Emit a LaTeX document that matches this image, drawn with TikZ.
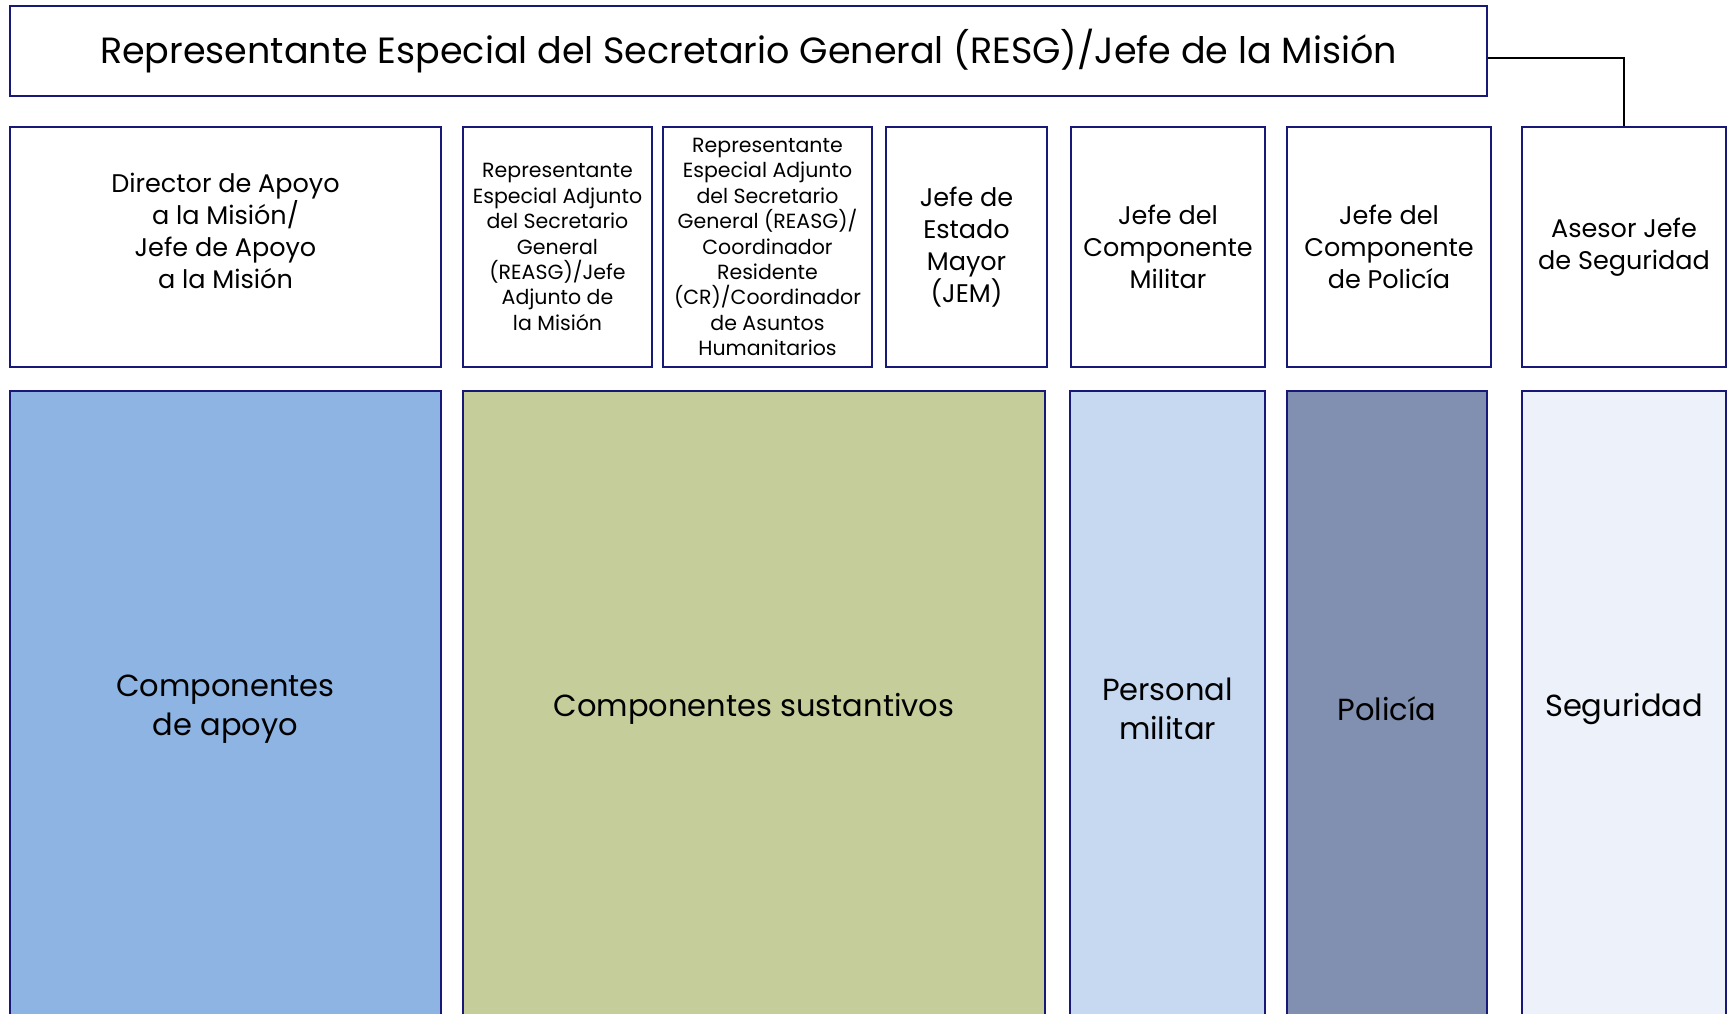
\documentclass[tikz,border=0pt]{standalone}
\usepackage{fontspec}
\setmainfont{Poppins}
\usepackage{xcolor}
\usepackage{tikz}
\definecolor{marino}{RGB}{24,24,120}
\definecolor{apoyo}{HTML}{8EB4E3}
\definecolor{sustantivo}{HTML}{C5CD9B}
\definecolor{militar}{HTML}{C6D9F1}
\definecolor{policia}{HTML}{8190B0}
\definecolor{seguridad}{HTML}{EDF2FA}
\tikzset{
	caja/.style={draw=marino, line width=2.2pt, align=center, inner sep=0pt, text=black}
}
\tikzstyle{jefe} = [caja, fill=white, font=\fontsize{25.5}{32}\selectfont]
\tikzstyle{chico} = [caja, fill=white, font=\fontsize{20.5}{25.4}\selectfont]
\tikzstyle{comp} = [caja, font=\fontsize{30.5}{38.6}\selectfont]
\tikzstyle{linea} = [draw, line width=1.5pt, black, -]

\begin{document}
\begin{tikzpicture}[x=1pt, y=-1pt]
  \clip (0,0) rectangle (1731,1013);
  \fill[white] (0,0) rectangle (1731,1013);

  \node[caja, fill=white, minimum width=1477pt, minimum height=90pt,
        font=\fontsize{36.5}{40}\selectfont] (resg) at (748.5,51)
    {Representante Especial del Secretario General (RESG)/Jefe de la Misión};

  % jefes
  \node[jefe, minimum width=431pt, minimum height=240pt] (dir) at (225.5,247)
    {Director de Apoyo\\a la Misión/\\Jefe de Apoyo\\a la Misión\\~};
  \node[chico, minimum width=189pt, minimum height=240pt] (reasg) at (557.5,247)
    {Representante\\Especial Adjunto\\del Secretario\\General\\(REASG)/Jefe\\Adjunto de\\la Misión};
  \node[chico, minimum width=209pt, minimum height=240pt] (cr) at (767.5,247)
    {Representante\\Especial Adjunto\\del Secretario\\General (REASG)/\\Coordinador\\Residente\\(CR)/Coordinador\\de Asuntos\\Humanitarios};
  \node[jefe, minimum width=161pt, minimum height=240pt] (jem) at (966.5,247)
    {Jefe de\\Estado\\Mayor\\(JEM)};
  \node[jefe, minimum width=194pt, minimum height=240pt] (jmil) at (1168,247)
    {Jefe del\\Componente\\Militar};
  \node[jefe, minimum width=204pt, minimum height=240pt] (jpol) at (1389,247)
    {Jefe del\\Componente\\de Policía};
  \node[jefe, minimum width=204pt, minimum height=240pt] (asesor) at (1624,247)
    {Asesor Jefe\\de Seguridad};

  % componentes
  \node[comp, fill=apoyo, minimum width=431pt, minimum height=636pt] (capoyo) at (225.5,709)
    {Componentes\\de apoyo};
  \node[comp, fill=sustantivo, minimum width=582pt, minimum height=636pt] (csust) at (754,709)
    {Componentes sustantivos};
  \node[comp, fill=militar, minimum width=195pt, minimum height=636pt] (cmil) at (1167.5,709)
    {Personal\\militar};
  \node[comp, fill=policia, minimum width=200pt, minimum height=636pt] (cpol) at (1387,709)
    {Policía};
  \node[comp, fill=seguridad, minimum width=204pt, minimum height=636pt] (cseg) at (1624,709)
    {Seguridad};

  \draw[linea] ([yshift=-7pt]resg.east) -| (asesor.north);
\end{tikzpicture}
\end{document}
